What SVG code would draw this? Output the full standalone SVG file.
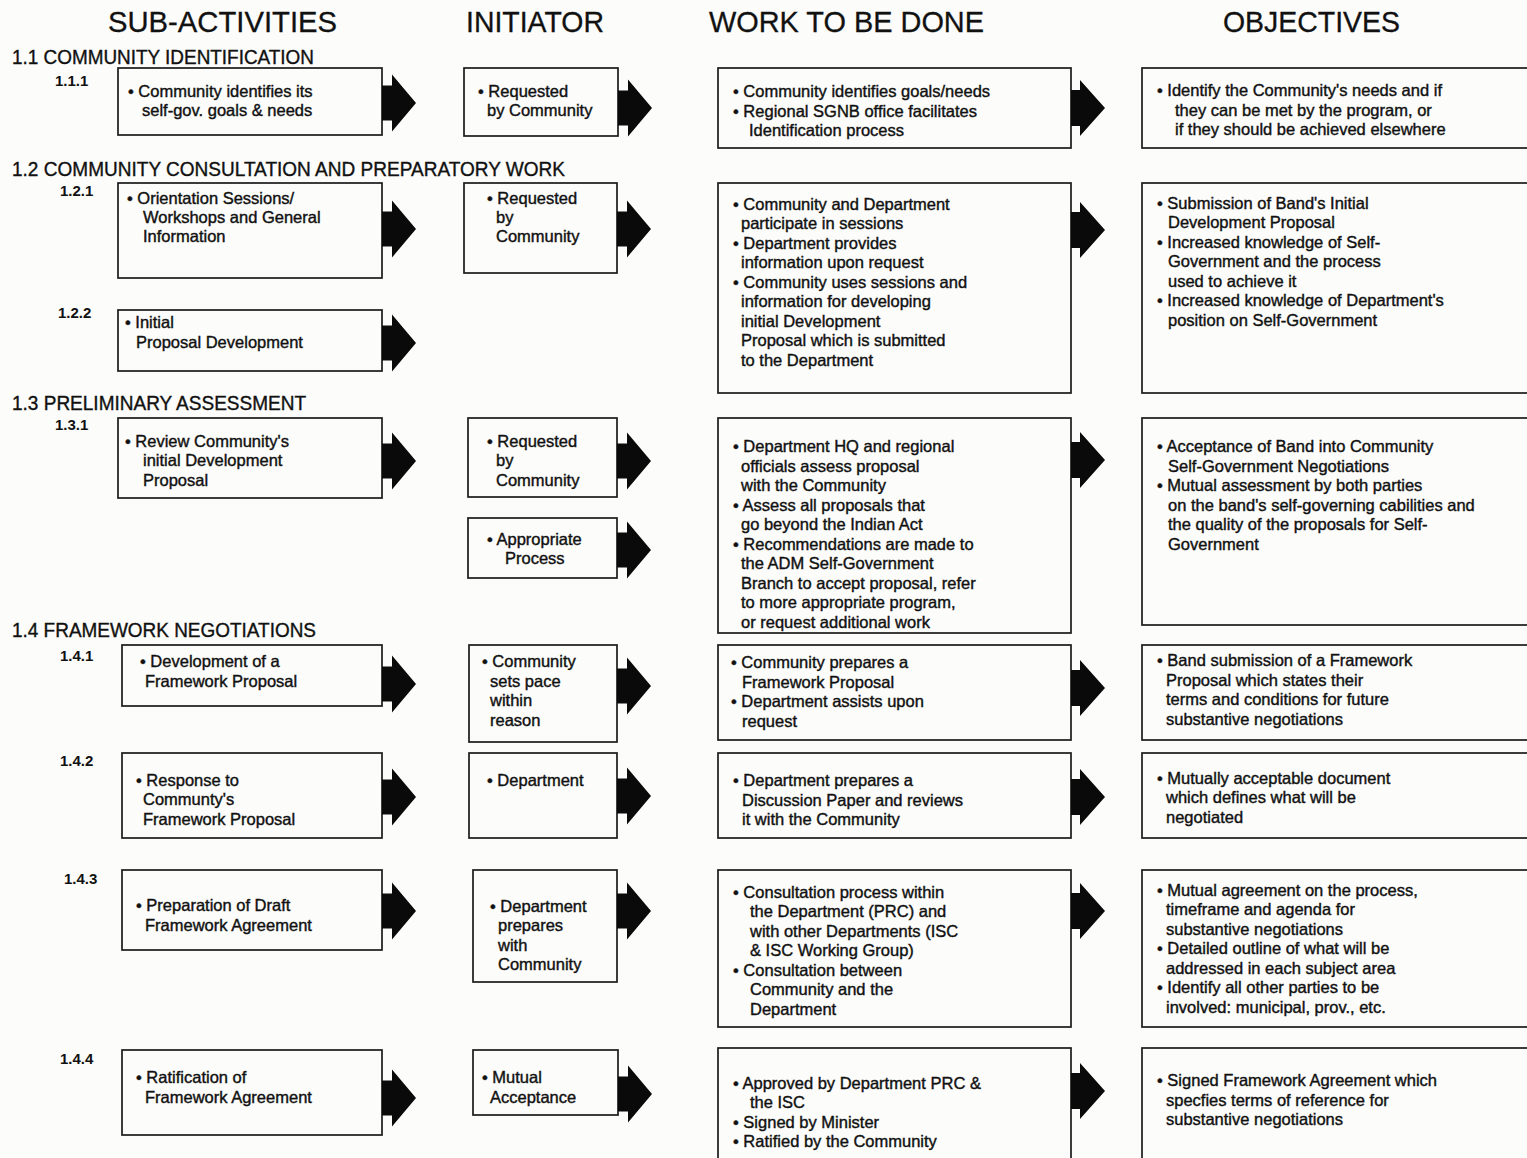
<svg xmlns="http://www.w3.org/2000/svg" width="1527" height="1158" viewBox="0 0 1527 1158">
<style>
text{font-family:"Liberation Sans",Arial,sans-serif;fill:#111}
.hdr{font-size:29px;stroke:#111;stroke-width:0.3}
.sec{font-size:19.5px;stroke:#111;stroke-width:0.35}
.num{font-size:15px;font-weight:bold}
.t{font-size:16.5px;stroke:#111;stroke-width:0.4}
.box{fill:none;stroke:#1a1a1a;stroke-width:1.7}
.arr{fill:#0a0a0a}
</style>
<defs>
<path id="arrA" d="M0,-17.5 H10 V-28.5 L34,0 L10,28.5 V17.5 H0 Z"/>
<path id="arrC" d="M0,-18 H9 V-28 L34,0 L9,28 V18 H0 Z"/>
</defs>
<rect x="0" y="0" width="1527" height="1158" fill="#fcfcfa"/>

<g id="headers">
<text class="hdr" x="108" y="32" textLength="229" lengthAdjust="spacingAndGlyphs">SUB-ACTIVITIES</text>
<text class="hdr" x="466" y="32" textLength="138" lengthAdjust="spacingAndGlyphs">INITIATOR</text>
<text class="hdr" x="709" y="32" textLength="275" lengthAdjust="spacingAndGlyphs">WORK TO BE DONE</text>
<text class="hdr" x="1223" y="32" textLength="177" lengthAdjust="spacingAndGlyphs">OBJECTIVES</text>
</g>

<g id="sections">
<text class="sec" x="12" y="64" textLength="302" lengthAdjust="spacingAndGlyphs">1.1 COMMUNITY IDENTIFICATION</text>
<text class="sec" x="12" y="176" textLength="553" lengthAdjust="spacingAndGlyphs">1.2 COMMUNITY CONSULTATION AND PREPARATORY WORK</text>
<text class="sec" x="12" y="410" textLength="294" lengthAdjust="spacingAndGlyphs">1.3 PRELIMINARY ASSESSMENT</text>
<text class="sec" x="12" y="637" textLength="304" lengthAdjust="spacingAndGlyphs">1.4 FRAMEWORK NEGOTIATIONS</text>
<text class="num" x="55" y="86">1.1.1</text>
<text class="num" x="60" y="196">1.2.1</text>
<text class="num" x="58" y="318">1.2.2</text>
<text class="num" x="55" y="430">1.3.1</text>
<text class="num" x="60" y="661">1.4.1</text>
<text class="num" x="60" y="766">1.4.2</text>
<text class="num" x="64" y="884">1.4.3</text>
<text class="num" x="60" y="1064">1.4.4</text>
</g>

<!-- Row 1.1 -->
<g id="sub-1-1-1"><rect class="box" x="118" y="68" width="264" height="67"/>
<text class="t"><tspan x="128" y="97">• Community identifies its</tspan><tspan x="142" y="116">self-gov. goals &amp; needs</tspan></text></g>
<g id="init-1-1-1"><rect class="box" x="464" y="68" width="154" height="68"/>
<text class="t"><tspan x="478" y="97">• Requested</tspan><tspan x="487" y="116">by Community</tspan></text></g>
<g id="work-1-1-1"><rect class="box" x="718" y="68" width="353" height="80"/>
<text class="t"><tspan x="733" y="97">• Community identifies goals/needs</tspan><tspan x="733" y="117">• Regional SGNB office facilitates</tspan><tspan x="749" y="136">Identification process</tspan></text></g>
<g id="obj-1-1-1"><rect class="box" x="1142" y="68" width="400" height="80"/>
<text class="t"><tspan x="1157" y="96">• Identify the Community's needs and if</tspan><tspan x="1175" y="116">they can be met by the program, or</tspan><tspan x="1175" y="135">if they should be achieved elsewhere</tspan></text></g>

<!-- Row 1.2.1 -->
<g id="sub-1-2-1"><rect class="box" x="118" y="183" width="264" height="95"/>
<text class="t"><tspan x="127" y="204">• Orientation Sessions/</tspan><tspan x="143" y="223">Workshops and General</tspan><tspan x="143" y="242">Information</tspan></text></g>
<g id="init-1-2-1"><rect class="box" x="464" y="183" width="153" height="90"/>
<text class="t"><tspan x="487" y="204">• Requested</tspan><tspan x="496" y="223">by</tspan><tspan x="496" y="242">Community</tspan></text></g>
<g id="work-1-2"><rect class="box" x="718" y="183" width="353" height="210"/>
<text class="t"><tspan x="733" y="210">• Community and Department</tspan><tspan x="741" y="229">participate in sessions</tspan><tspan x="733" y="249">• Department provides</tspan><tspan x="741" y="268">information upon request</tspan><tspan x="733" y="288">• Community uses sessions and</tspan><tspan x="741" y="307">information for developing</tspan><tspan x="741" y="327">initial Development</tspan><tspan x="741" y="346">Proposal which is submitted</tspan><tspan x="741" y="366">to the Department</tspan></text></g>
<g id="obj-1-2"><rect class="box" x="1142" y="183" width="400" height="210"/>
<text class="t"><tspan x="1157" y="209">• Submission of Band's Initial</tspan><tspan x="1168" y="228">Development Proposal</tspan><tspan x="1157" y="248">• Increased knowledge of Self-</tspan><tspan x="1168" y="267">Government and the process</tspan><tspan x="1168" y="287">used to achieve it</tspan><tspan x="1157" y="306">• Increased knowledge of Department's</tspan><tspan x="1168" y="326">position on Self-Government</tspan></text></g>

<!-- Row 1.2.2 -->
<g id="sub-1-2-2"><rect class="box" x="118" y="310" width="264" height="61"/>
<text class="t"><tspan x="125" y="328">• Initial</tspan><tspan x="136" y="348">Proposal Development</tspan></text></g>

<!-- Row 1.3 -->
<g id="sub-1-3-1"><rect class="box" x="118" y="418" width="264" height="80"/>
<text class="t"><tspan x="125" y="447">• Review Community's</tspan><tspan x="143" y="466">initial Development</tspan><tspan x="143" y="486">Proposal</tspan></text></g>
<g id="init-1-3-1a"><rect class="box" x="468" y="418" width="149" height="79"/>
<text class="t"><tspan x="487" y="447">• Requested</tspan><tspan x="496" y="466">by</tspan><tspan x="496" y="486">Community</tspan></text></g>
<g id="init-1-3-1b"><rect class="box" x="468" y="518" width="149" height="60"/>
<text class="t"><tspan x="487" y="545">• Appropriate</tspan><tspan x="505" y="564">Process</tspan></text></g>
<g id="work-1-3"><rect class="box" x="718" y="418" width="353" height="215"/>
<text class="t"><tspan x="733" y="452">• Department HQ and regional</tspan><tspan x="741" y="472">officials assess proposal</tspan><tspan x="741" y="491">with the Community</tspan><tspan x="733" y="511">• Assess all proposals that</tspan><tspan x="741" y="530">go beyond the Indian Act</tspan><tspan x="733" y="550">• Recommendations are made to</tspan><tspan x="741" y="569">the ADM Self-Government</tspan><tspan x="741" y="589">Branch to accept proposal, refer</tspan><tspan x="741" y="608">to more appropriate program,</tspan><tspan x="741" y="628">or request additional work</tspan></text></g>
<g id="obj-1-3"><rect class="box" x="1142" y="418" width="400" height="207"/>
<text class="t"><tspan x="1157" y="452">• Acceptance of Band into Community</tspan><tspan x="1168" y="472">Self-Government Negotiations</tspan><tspan x="1157" y="491">• Mutual assessment by both parties</tspan><tspan x="1168" y="511">on the band's self-governing cabilities and</tspan><tspan x="1168" y="530">the quality of the proposals for Self-</tspan><tspan x="1168" y="550">Government</tspan></text></g>

<!-- Row 1.4.1 -->
<g id="sub-1-4-1"><rect class="box" x="122" y="645" width="260" height="61"/>
<text class="t"><tspan x="140" y="667">• Development of a</tspan><tspan x="145" y="687">Framework Proposal</tspan></text></g>
<g id="init-1-4-1"><rect class="box" x="469" y="645" width="148" height="97"/>
<text class="t"><tspan x="482" y="667">• Community</tspan><tspan x="490" y="687">sets pace</tspan><tspan x="490" y="706">within</tspan><tspan x="490" y="726">reason</tspan></text></g>
<g id="work-1-4-1"><rect class="box" x="718" y="645" width="353" height="95"/>
<text class="t"><tspan x="731" y="668">• Community prepares a</tspan><tspan x="742" y="688">Framework Proposal</tspan><tspan x="731" y="707">• Department assists upon</tspan><tspan x="742" y="727">request</tspan></text></g>
<g id="obj-1-4-1"><rect class="box" x="1142" y="645" width="400" height="95"/>
<text class="t"><tspan x="1157" y="666">• Band submission of a Framework</tspan><tspan x="1166" y="686">Proposal which states their</tspan><tspan x="1166" y="705">terms and conditions for future</tspan><tspan x="1166" y="725">substantive negotiations</tspan></text></g>

<!-- Row 1.4.2 -->
<g id="sub-1-4-2"><rect class="box" x="122" y="753" width="260" height="85"/>
<text class="t"><tspan x="136" y="786">• Response to</tspan><tspan x="143" y="805">Communty's</tspan><tspan x="143" y="825">Framework Proposal</tspan></text></g>
<g id="init-1-4-2"><rect class="box" x="469" y="753" width="148" height="85"/>
<text class="t"><tspan x="487" y="786">• Department</tspan></text></g>
<g id="work-1-4-2"><rect class="box" x="718" y="753" width="353" height="85"/>
<text class="t"><tspan x="733" y="786">• Department prepares a</tspan><tspan x="742" y="806">Discussion Paper and reviews</tspan><tspan x="742" y="825">it with the Community</tspan></text></g>
<g id="obj-1-4-2"><rect class="box" x="1142" y="753" width="400" height="85"/>
<text class="t"><tspan x="1157" y="784">• Mutually acceptable document</tspan><tspan x="1166" y="803">which defines what will be</tspan><tspan x="1166" y="823">negotiated</tspan></text></g>

<!-- Row 1.4.3 -->
<g id="sub-1-4-3"><rect class="box" x="122" y="870" width="260" height="80"/>
<text class="t"><tspan x="136" y="911">• Preparation of Draft</tspan><tspan x="145" y="931">Framework Agreement</tspan></text></g>
<g id="init-1-4-3"><rect class="box" x="473" y="870" width="144" height="112"/>
<text class="t"><tspan x="490" y="912">• Department</tspan><tspan x="498" y="931">prepares</tspan><tspan x="498" y="951">with</tspan><tspan x="498" y="970">Community</tspan></text></g>
<g id="work-1-4-3"><rect class="box" x="718" y="870" width="353" height="157"/>
<text class="t"><tspan x="733" y="898">• Consultation process within</tspan><tspan x="750" y="917">the Department (PRC) and</tspan><tspan x="750" y="937">with other Departments (ISC</tspan><tspan x="750" y="956">&amp; ISC Working Group)</tspan><tspan x="733" y="976">• Consultation between</tspan><tspan x="750" y="995">Community and the</tspan><tspan x="750" y="1015">Department</tspan></text></g>
<g id="obj-1-4-3"><rect class="box" x="1142" y="870" width="400" height="157"/>
<text class="t"><tspan x="1157" y="896">• Mutual agreement on the process,</tspan><tspan x="1166" y="915">timeframe and agenda for</tspan><tspan x="1166" y="935">substantive negotiations</tspan><tspan x="1157" y="954">• Detailed outline of what will be</tspan><tspan x="1166" y="974">addressed in each subject area</tspan><tspan x="1157" y="993">• Identify all other parties to be</tspan><tspan x="1166" y="1013">involved: municipal, prov., etc.</tspan></text></g>

<!-- Row 1.4.4 -->
<g id="sub-1-4-4"><rect class="box" x="122" y="1050" width="260" height="85"/>
<text class="t"><tspan x="136" y="1083">• Ratification of</tspan><tspan x="145" y="1103">Framework Agreement</tspan></text></g>
<g id="init-1-4-4"><rect class="box" x="473" y="1050" width="145" height="65"/>
<text class="t"><tspan x="482" y="1083">• Mutual</tspan><tspan x="490" y="1103">Acceptance</tspan></text></g>
<g id="work-1-4-4"><rect class="box" x="718" y="1048" width="353" height="130"/>
<text class="t"><tspan x="733" y="1089">• Approved by Department PRC &amp;</tspan><tspan x="750" y="1108">the ISC</tspan><tspan x="733" y="1128">• Signed by Minister</tspan><tspan x="733" y="1147">• Ratified by the Community</tspan></text></g>
<g id="obj-1-4-4"><rect class="box" x="1142" y="1048" width="400" height="130"/>
<text class="t"><tspan x="1157" y="1086">• Signed Framework Agreement which</tspan><tspan x="1166" y="1106">specfies terms of reference for</tspan><tspan x="1166" y="1125">substantive negotiations</tspan></text></g>

<g id="connectors" class="arr">
<use href="#arrA" x="382" y="103"/>
<use href="#arrA" x="618" y="108"/>
<use href="#arrC" x="1071" y="108"/>
<use href="#arrA" x="382" y="229"/>
<use href="#arrA" x="617" y="229"/>
<use href="#arrC" x="1071" y="230"/>
<use href="#arrA" x="382" y="343"/>
<use href="#arrA" x="382" y="461"/>
<use href="#arrA" x="617" y="461"/>
<use href="#arrA" x="617" y="550"/>
<use href="#arrC" x="1071" y="460"/>
<use href="#arrA" x="382" y="684"/>
<use href="#arrA" x="617" y="686"/>
<use href="#arrC" x="1071" y="688"/>
<use href="#arrA" x="382" y="797"/>
<use href="#arrA" x="617" y="796"/>
<use href="#arrC" x="1071" y="797"/>
<use href="#arrA" x="382" y="911"/>
<use href="#arrA" x="617" y="911"/>
<use href="#arrC" x="1071" y="911"/>
<use href="#arrA" x="382" y="1098"/>
<use href="#arrA" x="618" y="1094"/>
<use href="#arrC" x="1071" y="1091"/>
</g>
</svg>
